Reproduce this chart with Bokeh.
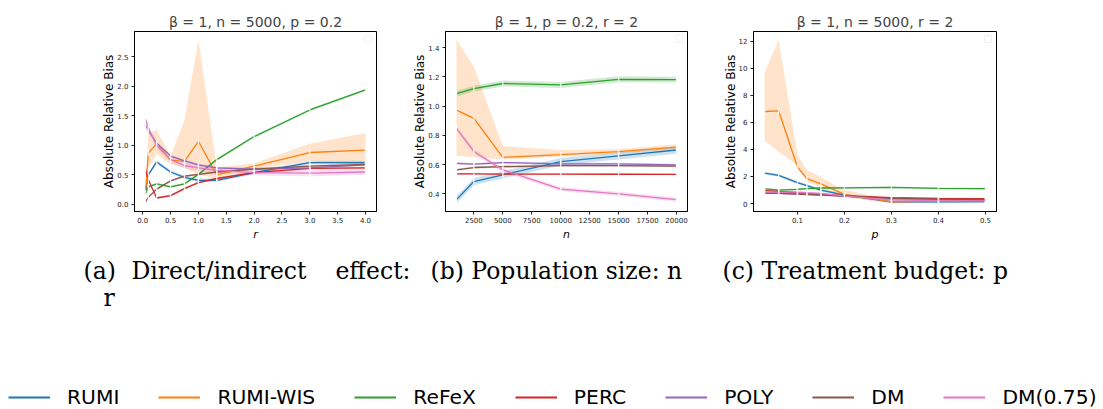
import math
from bokeh.plotting import figure
from bokeh.layouts import column, row
from bokeh.models import (Range1d, FixedTicker, PrintfTickFormatter, Label,
                          Legend, LegendItem, BoxAnnotation)
from bokeh.embed import file_html
from bokeh.resources import INLINE

NAMES = ["RUMI", "RUMI-WIS", "ReFeX", "PERC", "POLY", "DM", "DM(0.75)"]
COLORS = ["#1f77b4", "#ff7f0e", "#2ca02c", "#d62728", "#9467bd", "#8c564b", "#e377c2"]

# ---------------- panel (a): r ----------------
A_X = [0.05, 0.1, 0.25, 0.5, 0.75, 1.0, 1.33, 2.0, 3.0, 4.0]
A_RUMI = [0.18, 0.50, 0.72, 0.55, 0.46, 0.41, 0.41, 0.54, 0.71, 0.71]
A_RUMIWIS = [0.20, 0.87, 1.03, 0.75, 0.73, 1.07, 0.50, 0.65, 0.88, 0.92]
A_RUMIWIS_LO = [0.15, 0.60, 0.85, 0.68, 0.62, 0.50, 0.45, 0.60, 0.74, 0.66]
A_RUMIWIS_HI = [0.25, 1.20, 1.26, 0.82, 1.43, 2.79, 0.62, 0.70, 1.03, 1.21]
A_REFEX = [0.18, 0.30, 0.35, 0.30, 0.35, 0.51, 0.76, 1.15, 1.60, 1.94]
A_PERC = [0.60, 0.42, 0.11, 0.15, 0.27, 0.37, 0.44, 0.54, 0.61, 0.62]
A_POLY = [1.35, 1.25, 1.04, 0.82, 0.74, 0.67, 0.62, 0.60, 0.62, 0.67]
A_DM = [0.04, 0.12, 0.26, 0.40, 0.48, 0.51, 0.55, 0.60, 0.65, 0.68]
A_DM75 = [1.45, 1.30, 1.00, 0.76, 0.66, 0.62, 0.58, 0.54, 0.53, 0.55]
A_ERR = [0.03, 0.0, 0.02, 0.02, 0.02, 0.02, 0.05]
A_XTICKS = [0.0, 0.5, 1.0, 1.5, 2.0, 2.5, 3.0, 3.5, 4.0]
A_YTICKS = [0.0, 0.5, 1.0, 1.5, 2.0, 2.5]

# ---------------- panel (b): n ----------------
B_X = [1000, 2500, 5000, 10000, 15000, 20000]
B_RUMI = [0.36, 0.484, 0.53, 0.62, 0.66, 0.70]
B_RUMIWIS = [0.973, 0.916, 0.65, 0.668, 0.689, 0.72]
B_RUMIWIS_LO = [0.66, 0.65, 0.635, 0.655, 0.675, 0.705]
B_RUMIWIS_HI = [1.455, 1.268, 0.727, 0.70, 0.705, 0.74]
B_REFEX = [1.086, 1.12, 1.155, 1.145, 1.184, 1.182]
B_PERC = [0.536, 0.536, 0.535, 0.535, 0.534, 0.533]
B_POLY = [0.609, 0.603, 0.614, 0.605, 0.605, 0.598]
B_DM = [0.564, 0.58, 0.586, 0.593, 0.593, 0.59]
B_DM75 = [0.848, 0.69, 0.564, 0.432, 0.40, 0.36]
B_ERR = [0.025, 0.0, 0.02, 0.004, 0.008, 0.008, 0.015]
B_XTICKS = [2500, 5000, 7500, 10000, 12500, 15000, 17500, 20000]
B_YTICKS = [0.4, 0.6, 0.8, 1.0, 1.2, 1.4]

# ---------------- panel (c): p ----------------
C_X = [0.03, 0.06, 0.1, 0.12, 0.15, 0.2, 0.3, 0.4, 0.5]
C_RUMI = [2.25, 2.08, 1.55, 1.33, 1.0, 0.62, 0.12, 0.12, 0.15]
C_RUMIWIS = [6.8, 6.85, 2.70, 1.84, 1.45, 0.68, 0.12, 0.18, 0.22]
C_RUMIWIS_LO = [4.65, 3.8, 2.85, 1.6, 1.2, 0.45, 0.05, 0.10, 0.15]
C_RUMIWIS_HI = [9.65, 12.1, 3.58, 2.5, 1.95, 1.0, 0.3, 0.3, 0.3]
C_REFEX = [1.08, 1.0, 1.05, 1.1, 1.15, 1.16, 1.2, 1.12, 1.1]
C_PERC = [0.95, 0.9, 0.8, 0.75, 0.7, 0.58, 0.43, 0.38, 0.36]
C_POLY = [0.75, 0.75, 0.72, 0.7, 0.65, 0.55, 0.35, 0.3, 0.28]
C_DM = [0.8, 0.75, 0.7, 0.67, 0.62, 0.55, 0.4, 0.33, 0.3]
C_DM75 = [0.85, 0.85, 0.85, 0.8, 0.75, 0.55, 0.28, 0.22, 0.2]
C_ERR = [0.1, 0.0, 0.07, 0.05, 0.05, 0.05, 0.05]
C_XTICKS = [0.1, 0.2, 0.3, 0.4, 0.5]
C_YTICKS = [0, 2, 4, 6, 8, 10, 12]

TITLES = ["β = 1, n = 5000, p = 0.2", "β = 1, p = 0.2, r = 2", "β = 1, n = 5000, r = 2"]
XLABELS = ["r", "n", "p"]
YLABEL = "Absolute Relative Bias"
CAPTION_A = ["(a)", "Direct/indirect", "effect:", "r"]
CAPTION_B = "(b) Population size: n"
CAPTION_C = "(c) Treatment budget: p"


def panel(title, xs, series, errs, lo1, hi1, xticks, yticks, xfmt, yfmt, xlabel,
          width, ml, mr):
    lows, highs = [], []
    for i, s in enumerate(series):
        if i == 1:
            lows.append(list(lo1)); highs.append(list(hi1))
        else:
            lows.append([v - errs[i] for v in s]); highs.append([v + errs[i] for v in s])
    ymin = min(min(l) for l in lows); ymax = max(max(h) for h in highs)
    ypad = 0.05 * (ymax - ymin)
    xpad = 0.05 * (max(xs) - min(xs))
    xr = Range1d(min(xs) - xpad, max(xs) + xpad)
    yr = Range1d(ymin - ypad, ymax + ypad)
    p = figure(width=width, height=243, x_range=xr, y_range=yr,
               min_border_left=ml, min_border_right=mr, min_border_top=31,
               min_border_bottom=32, toolbar_location=None, output_backend="svg",
               background_fill_color="white", border_fill_color="white")
    p.title.text = title
    p.title.align = "center"
    p.title.text_font = "DejaVu Sans"
    p.title.text_font_size = "14px"
    p.title.text_font_style = "normal"
    p.title.standoff = 3
    p.xgrid.visible = False
    p.ygrid.visible = False
    p.outline_line_color = "black"
    p.outline_line_width = 1
    for ax in (p.xaxis[0], p.yaxis[0]):
        ax.axis_line_color = "black"
        ax.major_tick_in = 0
        ax.major_tick_out = 3
        ax.major_tick_line_color = "#222222"
        ax.minor_tick_line_color = None
        ax.major_label_text_font = "DejaVu Sans"
        ax.major_label_text_font_size = "7px"
        ax.major_label_text_color = "#222222"
        ax.axis_label_text_font = "DejaVu Sans"
        ax.axis_label_text_color = "black"
    p.xaxis.ticker = FixedTicker(ticks=xticks)
    p.yaxis.ticker = FixedTicker(ticks=yticks)
    p.xaxis.formatter = PrintfTickFormatter(format=xfmt)
    p.yaxis.formatter = PrintfTickFormatter(format=yfmt)
    p.xaxis.axis_label = xlabel
    p.xaxis.axis_label_text_font_style = "italic"
    p.xaxis.axis_label_text_font_size = "11px"
    p.xaxis.major_label_standoff = 2
    p.xaxis.axis_label_standoff = 2
    p.yaxis.axis_label = YLABEL
    p.yaxis.axis_label_text_font_style = "normal"
    p.yaxis.axis_label_text_font_size = "12px"
    p.yaxis.major_label_standoff = 3
    p.yaxis.axis_label_standoff = -2

    for i, s in enumerate(series):
        p.varea(x=xs, y1=lows[i], y2=highs[i], fill_color=COLORS[i], fill_alpha=0.22)
    for i, s in enumerate(series):
        p.line(x=xs, y=s, line_color=COLORS[i], line_width=1.3)
        p.scatter(x=xs, y=s, marker="dash", angle=math.pi / 2, size=6,
                  line_color="white", line_width=1.3, line_alpha=0.85)

    # empty legend frame in the top-right corner
    xs_span = xr.end - xr.start
    ys_span = yr.end - yr.start
    p.add_layout(BoxAnnotation(left=xr.end - xs_span * 12 / 242, right=xr.end - xs_span * 5 / 242,
                               top=yr.end - ys_span * 4 / 180, bottom=yr.end - ys_span * 11 / 180,
                               fill_color="white", fill_alpha=1, line_color="#cccccc",
                               line_width=1, border_radius=1))
    return p


pa = panel(TITLES[0], A_X, [A_RUMI, A_RUMIWIS, A_REFEX, A_PERC, A_POLY, A_DM, A_DM75],
           A_ERR, A_RUMIWIS_LO, A_RUMIWIS_HI, A_XTICKS, A_YTICKS, "%.1f", "%.1f",
           XLABELS[0], 410, 134, 34)
pb = panel(TITLES[1], B_X, [B_RUMI, B_RUMIWIS, B_REFEX, B_PERC, B_POLY, B_DM, B_DM75],
           B_ERR, B_RUMIWIS_LO, B_RUMIWIS_HI, B_XTICKS, B_YTICKS, "%d", "%.1f",
           XLABELS[1], 310, 34, 33)
pc = panel(TITLES[2], C_X, [C_RUMI, C_RUMIWIS, C_REFEX, C_PERC, C_POLY, C_DM, C_DM75],
           C_ERR, C_RUMIWIS_LO, C_RUMIWIS_HI, C_XTICKS, C_YTICKS, "%.1f", "%d",
           XLABELS[2], 383, 33, 107)

# ---------------- captions + shared legend ----------------
cap = figure(width=1103, height=166, x_range=Range1d(0, 1103), y_range=Range1d(409, 243),
             x_axis_location=None, y_axis_location=None, toolbar_location=None,
             output_backend="svg", min_border_left=0, min_border_right=0,
             min_border_top=0, min_border_bottom=0, outline_line_color=None)
cap.xgrid.visible = False
cap.ygrid.visible = False
FS = "23.5px"
for txt, x, y, al in [(CAPTION_A[0], 83, 270, "left"), (CAPTION_A[1], 131, 270, "left"),
                      (CAPTION_A[2], 410, 270, "right"), (CAPTION_A[3], 103, 297, "left"),
                      (CAPTION_B, 430, 270, "left"), (CAPTION_C, 722, 270, "left")]:
    cap.add_layout(Label(x=x, y=y, text=txt, text_font="DejaVu Serif",
                         text_font_size=FS, text_baseline="alphabetic",
                         text_align=al, text_color="black"))

items = []
for name, col in zip(NAMES, COLORS):
    # off-screen stub renderer, only used to draw the legend swatch
    r = cap.line(x=[-50, -40], y=[300, 300], line_color=col, line_width=2)
    items.append(LegendItem(label=name, renderers=[r]))
leg = Legend(items=items, orientation="horizontal", location=(8, 0),
             glyph_width=42, glyph_height=20, label_standoff=17, spacing=39,
             padding=0, margin=0, border_line_color=None, background_fill_alpha=0,
             label_text_font="DejaVu Sans", label_text_font_size="20.3px",
             label_text_color="black")
cap.add_layout(leg)

layout = column(row(pa, pb, pc), cap)
open("out.html", "w").write(file_html(layout, INLINE))
